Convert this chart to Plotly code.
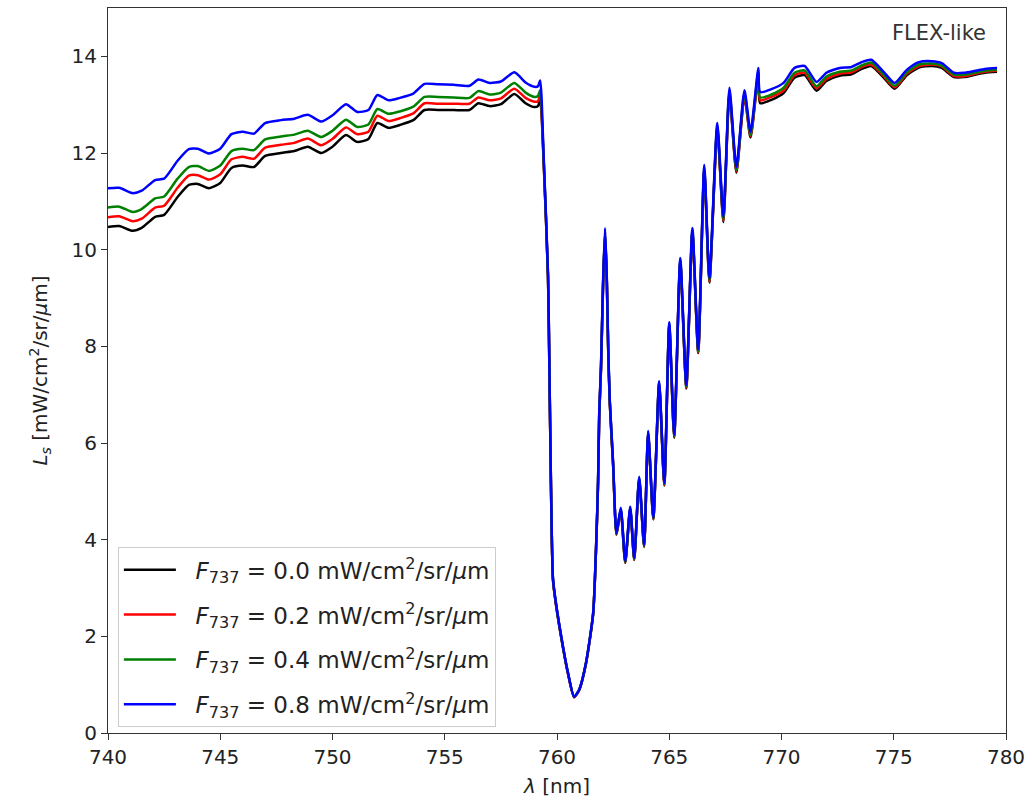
import plotly.graph_objects as go

# ---------------- data ----------------
wavelength = [
    740.0, 740.5, 741.1, 741.5, 742.1, 742.5, 743.1, 743.6, 744.0, 744.5,
    745.0, 745.5, 746.0, 746.5, 747.0, 747.7, 748.3, 748.9, 749.5, 750.0,
    750.6, 751.1, 751.6, 752.0, 752.5, 753.0, 753.6, 754.1, 754.7, 755.4,
    756.1, 756.5, 757.0, 757.5, 758.1, 758.6, 759.0, 759.15, 759.25,
    759.40, 759.60, 759.65, 759.73, 759.82, 759.95, 760.27, 760.49, 760.76, 760.98,
    761.29, 761.61, 761.74, 761.83, 761.88, 761.96, 762.05, 762.14, 762.22, 762.28,
    762.35, 762.50, 762.65, 762.84, 763.04, 763.26, 763.44, 763.66, 763.88, 764.06,
    764.29, 764.55, 764.78, 765.00, 765.22, 765.49, 765.76, 766.03, 766.29, 766.56,
    766.79, 767.14, 767.41, 767.68, 767.99, 768.35, 768.62, 768.97,
    769.05, 769.55, 770.09, 770.58, 771.03, 771.56, 772.00, 772.59, 773.12, 773.57,
    774.00, 774.55, 775.04, 775.58, 776.12, 776.70, 777.14, 777.68, 778.13, 778.62,
    779.06, 779.60,
]

L_F00 = [
    10.47, 10.49, 10.39, 10.45, 10.68, 10.72, 11.09, 11.34, 11.36, 11.27,
    11.38, 11.69, 11.74, 11.71, 11.94, 12.00, 12.04, 12.13, 12.00, 12.13,
    12.37, 12.23, 12.29, 12.62, 12.52, 12.58, 12.68, 12.89, 12.89, 12.89,
    12.89, 13.03, 12.97, 13.01, 13.22, 13.03, 12.95, 12.97, 13.10,
    11.88, 9.41, 7.92, 5.15, 3.17, 2.67, 1.76, 1.23, 0.74, 0.88,
    1.44, 2.46, 3.81, 5.18, 6.55, 7.52, 9.21, 10.35, 9.31, 7.92,
    6.83, 5.53, 4.10, 4.61, 3.52, 4.63, 3.58, 5.25, 3.85, 6.19,
    4.42, 7.21, 5.12, 8.41, 6.11, 9.73, 7.13, 10.35, 7.86, 11.63,
    9.32, 12.49, 10.57, 13.22, 11.59, 13.17, 12.32, 13.62,
    13.03, 13.10, 13.24, 13.56, 13.61, 13.29, 13.49, 13.60, 13.63, 13.74,
    13.80, 13.56, 13.33, 13.61, 13.77, 13.80, 13.76, 13.57, 13.57, 13.62,
    13.66, 13.68,
]

L_F02 = [
    10.67, 10.69, 10.59, 10.64, 10.87, 10.91, 11.28, 11.53, 11.54, 11.45,
    11.56, 11.87, 11.92, 11.88, 12.11, 12.17, 12.21, 12.30, 12.16, 12.29,
    12.53, 12.39, 12.44, 12.77, 12.66, 12.72, 12.82, 13.03, 13.02, 13.02,
    13.02, 13.15, 13.09, 13.13, 13.33, 13.14, 13.06, 13.07, 13.20,
    11.91, 9.43, 7.94, 5.16, 3.18, 2.68, 1.77, 1.23, 0.74, 0.88,
    1.44, 2.47, 3.82, 5.19, 6.57, 7.54, 9.23, 10.37, 9.33, 7.94,
    6.85, 5.55, 4.11, 4.62, 3.53, 4.64, 3.59, 5.26, 3.86, 6.21,
    4.43, 7.23, 5.13, 8.43, 6.13, 9.76, 7.15, 10.37, 7.88, 11.66,
    9.34, 12.52, 10.60, 13.25, 11.62, 13.20, 12.35, 13.65,
    13.09, 13.16, 13.29, 13.61, 13.66, 13.34, 13.53, 13.64, 13.67, 13.78,
    13.83, 13.59, 13.36, 13.64, 13.80, 13.83, 13.79, 13.59, 13.59, 13.64,
    13.68, 13.70,
]

L_F04 = [
    10.87, 10.89, 10.78, 10.84, 11.06, 11.10, 11.47, 11.71, 11.73, 11.63,
    11.74, 12.04, 12.09, 12.06, 12.28, 12.34, 12.38, 12.46, 12.33, 12.46,
    12.69, 12.54, 12.59, 12.91, 12.81, 12.86, 12.96, 13.16, 13.16, 13.15,
    13.14, 13.28, 13.21, 13.25, 13.45, 13.25, 13.16, 13.18, 13.30,
    11.94, 9.45, 7.96, 5.18, 3.19, 2.69, 1.77, 1.24, 0.75, 0.89,
    1.45, 2.47, 3.83, 5.21, 6.59, 7.56, 9.26, 10.40, 9.36, 7.96,
    6.87, 5.56, 4.12, 4.64, 3.54, 4.66, 3.60, 5.28, 3.87, 6.22,
    4.44, 7.25, 5.15, 8.46, 6.14, 9.78, 7.17, 10.40, 7.90, 11.69,
    9.37, 12.56, 10.63, 13.29, 11.65, 13.24, 12.38, 13.69,
    13.15, 13.21, 13.35, 13.66, 13.71, 13.38, 13.58, 13.68, 13.71, 13.81,
    13.87, 13.62, 13.39, 13.67, 13.83, 13.85, 13.81, 13.62, 13.62, 13.66,
    13.70, 13.72,
]

L_F08 = [
    11.27, 11.28, 11.17, 11.22, 11.44, 11.47, 11.84, 12.08, 12.09, 11.99,
    12.09, 12.39, 12.44, 12.40, 12.62, 12.68, 12.71, 12.79, 12.65, 12.78,
    13.01, 12.85, 12.89, 13.20, 13.09, 13.14, 13.23, 13.43, 13.42, 13.41,
    13.39, 13.52, 13.45, 13.48, 13.67, 13.46, 13.37, 13.38, 13.50,
    12.00, 9.50, 8.00, 5.20, 3.20, 2.70, 1.78, 1.24, 0.75, 0.89,
    1.45, 2.48, 3.85, 5.23, 6.62, 7.60, 9.30, 10.45, 9.40, 8.00,
    6.90, 5.59, 4.14, 4.66, 3.56, 4.68, 3.62, 5.30, 3.89, 6.25,
    4.46, 7.28, 5.17, 8.50, 6.17, 9.83, 7.20, 10.45, 7.94, 11.75,
    9.41, 12.62, 10.68, 13.35, 11.71, 13.30, 12.44, 13.76,
    13.26, 13.32, 13.45, 13.76, 13.80, 13.47, 13.66, 13.76, 13.78, 13.88,
    13.93, 13.68, 13.45, 13.72, 13.88, 13.90, 13.86, 13.66, 13.66, 13.70,
    13.74, 13.76,
]

series_values = [L_F00, L_F02, L_F04, L_F08]
F_levels = ["0.0", "0.2", "0.4", "0.8"]
series_colors = ["#000000", "#ff0000", "#008000", "#0000ff"]

x_ticks = [740, 745, 750, 755, 760, 765, 770, 775, 780]
y_ticks = [0, 2, 4, 6, 8, 10, 12, 14]

# ---------------- figure ----------------
FONT = "DejaVu Sans"
fig = go.Figure()
for i, (vals, lev, col) in enumerate(zip(series_values, F_levels, series_colors)):
    fig.add_trace(go.Scatter(
        x=wavelength, y=vals, mode="lines",
        line=dict(color=col, width=2.5, shape="spline", smoothing=0.6),
        name=(f"&nbsp;&nbsp;<i>F</i><sub>737</sub>&nbsp;=&nbsp;{lev} "
              f"mW/cm<sup>2</sup>/sr/<i>μ</i>m"),
        legendgroup=f"g{i}",
    ))

axis_common = dict(
    showline=True, linecolor="#333333", linewidth=1.2, mirror=True,
    ticks="outside", ticklen=6, tickwidth=1.2, tickcolor="#333333",
    showgrid=False, zeroline=False,
    tickfont=dict(family=FONT, size=20, color="#222222"),
)

fig.update_layout(
    width=1032, height=802,
    margin=dict(l=108, r=26, t=8, b=69),
    paper_bgcolor="white", plot_bgcolor="white",
    font=dict(family=FONT, size=20, color="#222222"),
    xaxis=dict(range=[740, 780], tickvals=x_ticks,
               title=dict(text="<i>λ</i> [nm]", standoff=10,
                          font=dict(family=FONT, size=20, color="#222222")),
               **axis_common),
    yaxis=dict(range=[0, 15], tickvals=y_ticks,
               title=dict(text="<i>L<sub>s</sub></i> [mW/cm<sup>2</sup>/sr/<i>μ</i>m]",
                          standoff=18,
                          font=dict(family=FONT, size=20, color="#222222")),
               **axis_common),
    legend=dict(
        x=0.011, y=0.008, xanchor="left", yanchor="bottom",
        bgcolor="rgba(255,255,255,0.85)", bordercolor="#cccccc", borderwidth=1,
        font=dict(family=FONT, size=23, color="#222222"),
        tracegroupgap=12, itemwidth=52,
    ),
    showlegend=True,
    annotations=[dict(
        text="FLEX-like", xref="paper", yref="paper", x=0.98, y=0.985,
        xanchor="right", yanchor="top", showarrow=False,
        font=dict(family=FONT, size=21, color="#333333"),
    )],
)

fig.write_html("out.html")
